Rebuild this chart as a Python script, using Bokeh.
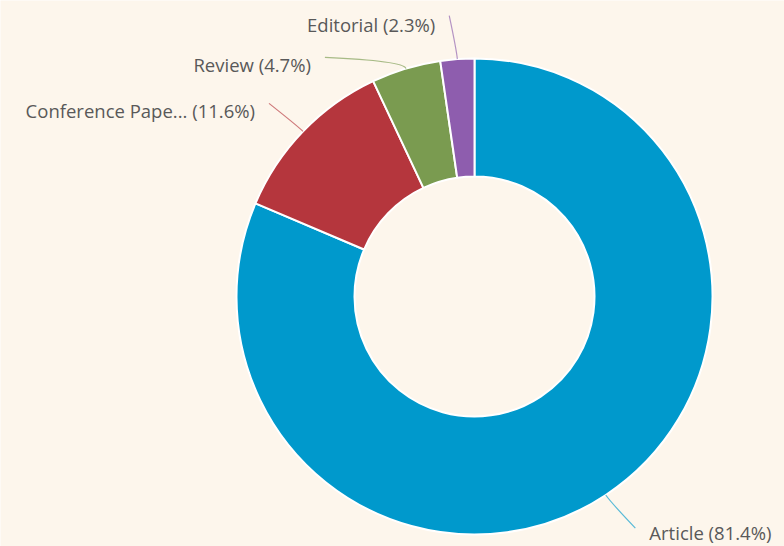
import math
from bokeh.plotting import figure
from bokeh.models import Range1d, ColumnDataSource
from bokeh.core.properties import value
from bokeh.embed import file_html
from bokeh.resources import INLINE

# ---- data ----
categories = ["Article", "Conference Pape...", "Review", "Editorial"]
shares = [81.4, 11.6, 4.7, 2.3]
colors = ["#0099CC", "#B5363D", "#7A9B50", "#8E5DAE"]

# ---- layout ----
W, H = 784, 546
BG = "#FDF6EC"
CX, CY = 474, 250
R_OUT, R_IN = 238, 120
LABEL_R = 282
CTRL_R = 246
label_shift_deg = [1.3, 0.7, 15.3, 1.0]
text_dy = [3.5, 0, 0, -1.5]      # extra vertical nudge of label text (screen px, down = +)

total = sum(shares)
starts, ends, mids = [], [], []
cum = 0.0
for s in shares:
    a0 = math.pi / 2 - 2 * math.pi * (cum + s) / total
    a1 = math.pi / 2 - 2 * math.pi * cum / total
    starts.append(a0)
    ends.append(a1)
    mids.append((a0 + a1) / 2)
    cum += s

p = figure(width=W, height=H, output_backend="svg", toolbar_location=None,
           x_range=Range1d(0, W), y_range=Range1d(0, H), min_border=0)
p.axis.visible = False
p.grid.visible = False
p.outline_line_color = None
p.background_fill_color = BG
p.border_fill_color = BG

src = ColumnDataSource(dict(start=starts, end=ends, color=colors))
p.annular_wedge(x=CX, y=CY, inner_radius=R_IN, outer_radius=R_OUT,
                start_angle="start", end_angle="end", direction="anticlock",
                fill_color="color", line_color="white", line_width=2, source=src)

x0s, y0s, x1s, y1s, cxs, cys = [], [], [], [], [], []
tx_l, ty_l, tt_l = [], [], []
tx_r, ty_r, tt_r = [], [], []
for cat, s, m, sh, dy in zip(categories, shares, mids, label_shift_deg, text_dy):
    x0 = CX + R_OUT * math.cos(m)
    y0 = CY + R_OUT * math.sin(m)
    cx = CX + CTRL_R * math.cos(m)
    cy = CY + CTRL_R * math.sin(m)
    la = m + math.radians(sh)
    x1 = CX + LABEL_R * math.cos(la)
    y1 = CY + LABEL_R * math.sin(la)
    x0s.append(x0); y0s.append(y0); x1s.append(x1); y1s.append(y1)
    cxs.append(cx); cys.append(cy)
    txt = f"{cat} ({s}%)"
    if math.cos(m) >= 0:
        tx_r.append(x1 + 14); ty_r.append(y1 - 7.5 + dy); tt_r.append(txt)
    else:
        tx_l.append(x1 - 14); ty_l.append(y1 - 7.5 + dy); tt_l.append(txt)

p.quadratic(x0=x0s, y0=y0s, x1=x1s, y1=y1s, cx=cxs, cy=cys,
            line_color=colors, line_alpha=0.65, line_width=1.2)

FONT_SIZE = "18.5px"
p.text(x=tx_r, y=ty_r, text=tt_r, text_align="left", text_baseline="middle",
       text_font=value("Open Sans"), text_font_size=FONT_SIZE, text_color="#595959")
p.text(x=tx_l, y=ty_l, text=tt_l, text_align="right", text_baseline="middle",
       text_font=value("Open Sans"), text_font_size=FONT_SIZE, text_color="#595959")

html = file_html(p, INLINE)
html = html.replace("<body>", '<body style="margin:0;padding:0;background:%s;overflow:hidden">' % BG, 1)
open("out.html", "w").write(html)
